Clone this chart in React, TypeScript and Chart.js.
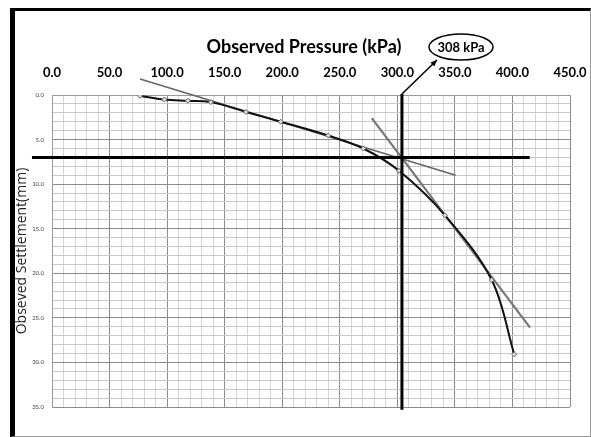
import React, { useEffect, useRef } from "react";
import { Chart, registerables } from "chart.js";

Chart.register(...registerables);

// ---- data ----
const pressure = [76.5, 97.6, 118, 138, 168.5, 198.7, 240, 270.5, 301.5, 341.4, 382, 401.6];
const settlement = [0.1, 0.5, 0.65, 0.8, 1.9, 3.0, 4.55, 6.0, 8.5, 13.5, 20.75, 29.1];

const tangent1X = [76.5, 350.7];
const tangent1Y = [-1.8, 9.0];
const tangent2X = [277.8, 415.3];
const tangent2Y = [2.6, 26.1];

const yieldPressure = 304;
const yieldLineY = [-0.1, 35.3];
const yieldSettlement = 7.0;
const settleLineX = [-17.4, 415];

const xTickValues = [0, 50, 100, 150, 200, 250, 300, 350, 400, 450];
const xTickLabels = ["0.0", "50.0", "100.0", "150.0", "200.0", "250.0", "300.0", "350.0", "400.0", "450.0"];
const yTickValues = [0, 5, 10, 15, 20, 25, 30, 35];
const yTickLabels = ["0.0", "5.0", "10.0", "15.0", "20.0", "25.0", "30.0", "35.0"];

const chartTitle = "Observed Pressure (kPa)";
const yTitle = "Obseved Settlement(mm)";
const annotationLabel = "308 kPa";

const pts = (xs: number[], ys: number[]) => xs.map((x, i) => ({ x, y: ys[i] }));

const decorPlugin = {
  id: "decor",
  afterDraw(chart: any) {
    const ctx = chart.ctx;
    const xs = chart.scales.x;
    const ys = chart.scales.y;
    ctx.save();
    // title
    ctx.fillStyle = "#000";
    ctx.font = "bold 18px Lato";
    ctx.textAlign = "center";
    ctx.textBaseline = "middle";
    ctx.fillText(chartTitle, 304, 47);
    // ellipse label
    const ex = 461, ey = 47;
    ctx.beginPath();
    ctx.ellipse(ex, ey, 32, 13, 0, 0, Math.PI * 2);
    ctx.lineWidth = 1.5;
    ctx.strokeStyle = "#000";
    ctx.stroke();
    ctx.font = "bold 13px Lato";
    ctx.fillText(annotationLabel, ex, ey + 1);
    // arrow
    const x0 = xs.getPixelForValue(yieldPressure);
    const y0 = ys.getPixelForValue(0) - 1;
    const x1 = 437, y1 = 60;
    ctx.beginPath();
    ctx.moveTo(x0, y0);
    ctx.lineTo(x1, y1);
    ctx.lineWidth = 1.5;
    ctx.stroke();
    const ang = Math.atan2(y1 - y0, x1 - x0);
    const hl = 7;
    ctx.beginPath();
    ctx.moveTo(x1, y1);
    ctx.lineTo(x1 - hl * Math.cos(ang - 0.4), y1 - hl * Math.sin(ang - 0.4));
    ctx.lineTo(x1 - hl * Math.cos(ang + 0.4), y1 - hl * Math.sin(ang + 0.4));
    ctx.closePath();
    ctx.fillStyle = "#000";
    ctx.fill();
    ctx.restore();
  },
};

export default function App() {
  const ref = useRef<HTMLCanvasElement | null>(null);
  useEffect(() => {
    if (!ref.current) return;
    const chart = new Chart(ref.current, {
      type: "scatter",
      data: {
        datasets: [
          {
            label: "settle line",
            data: pts(settleLineX, [yieldSettlement, yieldSettlement]),
            showLine: true,
            borderColor: "#000",
            borderWidth: 3,
            pointRadius: 0,
            clip: false as any,
            order: 0,
          },
          {
            label: "yield line",
            data: pts([yieldPressure, yieldPressure], yieldLineY),
            showLine: true,
            borderColor: "#000",
            borderWidth: 3,
            pointRadius: 0,
            clip: false as any,
            order: 0,
          },
          {
            label: "observed",
            data: pts(pressure, settlement),
            showLine: true,
            borderColor: "#111",
            borderWidth: 2,
            tension: 0.35,
            pointStyle: "rectRot",
            pointRadius: 2.5,
            pointBorderColor: "#666",
            pointBackgroundColor: "#ddd",
            pointBorderWidth: 1,
            order: 1,
          },
          {
            label: "tangent 1",
            data: pts(tangent1X, tangent1Y),
            showLine: true,
            borderColor: "#666",
            borderWidth: 1.6,
            pointRadius: 0,
            clip: false as any,
            order: 2,
          },
          {
            label: "tangent 2",
            data: pts(tangent2X, tangent2Y),
            showLine: true,
            borderColor: "#777",
            borderWidth: 2.2,
            pointRadius: 0,
            clip: false as any,
            order: 2,
          },
        ],
      },
      options: {
        animation: false,
        responsive: false,
        layout: { padding: { left: 14, top: 10, right: 21, bottom: 30 } },
        plugins: {
          legend: { display: false },
          tooltip: { enabled: false },
          title: { display: false },
        },
        scales: {
          x: {
            type: "linear",
            position: "top",
            min: 0,
            max: 450,
            afterFit: (s: any) => {
              s.height = 85;
              s.paddingLeft = 0;
              s.paddingRight = 0;
            },
            border: { display: true, color: "#999", width: 1 },
            grid: {
              drawTicks: false,
              color: (c: any) => (c.tick && c.tick.value % 50 === 0 ? "#8c8c8c" : "#d6d6d6"),
              lineWidth: 1,
            },
            ticks: {
              stepSize: 10,
              autoSkip: false,
              maxRotation: 0,
              padding: 14,
              color: "#000",
              font: { family: "Lato", size: 13, weight: "bold" },
              callback: (v: any) => {
                const i = xTickValues.indexOf(Number(v));
                return i >= 0 ? xTickLabels[i] : "";
              },
            },
          },
          y: {
            type: "linear",
            reverse: true,
            min: 0,
            max: 35,
            afterFit: (s: any) => {
              s.width = 38;
              s.paddingTop = 0;
              s.paddingBottom = 0;
            },
            border: { display: true, color: "#999", width: 1 },
            grid: {
              drawTicks: false,
              color: (c: any) => (c.tick && c.tick.value % 5 === 0 ? "#8c8c8c" : "#c8c8c8"),
              lineWidth: 1,
            },
            title: {
              display: true,
              text: yTitle,
              color: "#222",
              padding: 0,
              font: { family: "Open Sans", size: 14 },
            },
            ticks: {
              stepSize: 1,
              autoSkip: false,
              padding: 8,
              color: "#444",
              font: { family: "Lato", size: 6 },
              callback: (v: any) => {
                const i = yTickValues.indexOf(Number(v));
                return i >= 0 ? yTickLabels[i] : "";
              },
            },
          },
        },
      },
      plugins: [decorPlugin],
    });
    return () => chart.destroy();
  }, []);

  return (
    <div style={{ position: "fixed", left: 0, top: 0, width: 591, height: 437, background: "#fff" }}>
      <div
        style={{
          position: "absolute",
          left: 10,
          top: 8,
          width: 575,
          height: 425,
          borderLeft: "5px solid #000",
          borderTop: "3px solid #000",
          borderBottom: "1px solid #999",
          borderRight: "1px solid #999",
        }}
      />
      <canvas ref={ref} width={591} height={437} style={{ position: "absolute", left: 0, top: 0 }} />
    </div>
  );
}
